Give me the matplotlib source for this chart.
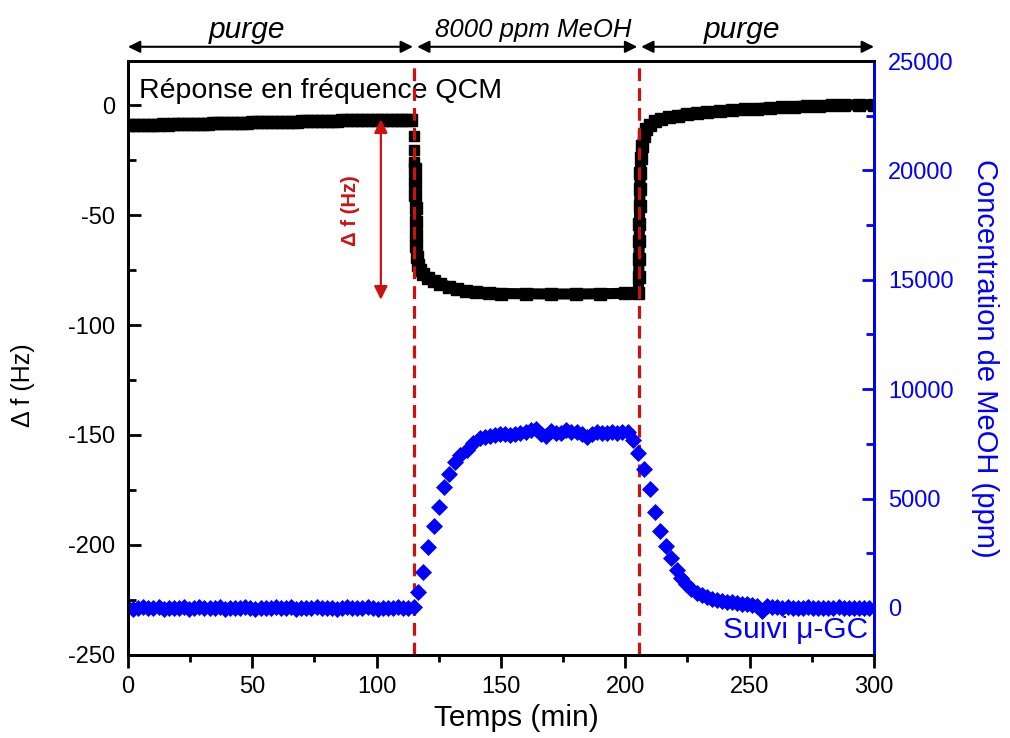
import numpy as np
import matplotlib.pyplot as plt
from matplotlib.ticker import MultipleLocator

plt.rcParams['font.family'] = ['Liberation Sans', 'DejaVu Sans']
plt.rcParams['axes.unicode_minus'] = False

RED = '#cc1111'
BLUE = '#0000ff'

# QCM frequency shift (Hz) vs time (min)
t_purge1 = np.arange(58) * 2.0
df_purge1 = [-9.3, -9.1, -9.2, -9.0, -9.1, -8.9, -9.0, -8.8, -8.9, -8.7,
             -8.8, -8.6, -8.6, -8.5, -8.5, -8.4, -8.4, -8.3, -8.3, -8.2,
             -8.2, -8.1, -8.1, -8.0, -8.0, -7.9, -7.9, -7.8, -7.8, -7.7,
             -7.7, -7.6, -7.6, -7.5, -7.5, -7.4, -7.4, -7.3, -7.3, -7.2,
             -7.2, -7.1, -7.1, -7.0, -7.0, -7.0, -6.9, -6.9, -6.9, -6.8,
             -6.8, -6.8, -6.7, -6.7, -6.7, -6.6, -6.6, -6.6]
# first sparse points of the drop
t_drop = [115.0, 115.1, 115.2]
df_drop = [-14.0, -20.5, -26.0]
# exposure + second purge
t_rest = [115.4, 115.5, 115.6, 115.7, 115.8, 115.9, 116.0, 116.1, 116.5, 117.5,
          118.7, 120.5, 123.0, 125.5, 129.0, 132.5, 136.0, 140.0, 145.0, 150.0,
          160.0, 170.0, 180.0, 190.0, 200.0, 205.2,
          205.4, 205.5, 205.6, 205.7, 205.8, 205.9, 206.0, 206.3, 206.8, 207.5,
          208.5, 210.0, 212.0, 214.5, 217.5, 221.0, 225.0, 229.0, 233.0, 238.0,
          243.0, 248.0, 253.0, 258.0, 263.0, 268.0, 273.0, 278.0, 283.0, 288.0,
          294.0, 300.0]
df_rest = [-29, -35, -41, -47, -53, -59, -64, -69, -72.5, -75,
           -77, -78.8, -80.2, -81.2, -82.6, -83.8, -84.7, -85.2, -85.5, -85.7,
           -85.8, -85.9, -85.9, -85.8, -85.6, -85.5,
           -78, -70, -62, -54, -46, -38, -31, -24, -18.5, -14,
           -11, -9, -7.3, -6.3, -5.5, -4.8, -4.2, -3.7, -3.2, -2.8,
           -2.4, -2.0, -1.6, -1.3, -1.0, -0.7, -0.5, -0.3, -0.1, 0.0,
           0.1, 0.2]

# micro-GC MeOH concentration (ppm)
t_gc1 = np.arange(56) * 2.05
c_gc1 = [20, -30, 10, 40, -20, 0, 30, -40, 10, 20,
         -10, 30, -30, 0, 40, -20, 10, -10, 30, -30,
         20, 0, -20, 40, 10, -30, 20, -10, 0, 30,
         -20, 10, 40, -30, 0, 20, -10, 30, -20, 10,
         0, -30, 20, 40, -10, 10, -20, 30, 0, -30,
         20, 10, -10, 30, -20, 0]
t_gc_rise = [114.9, 116.7, 118.7, 120.7, 123.0, 125.0, 127.2, 129.2, 131.5, 133.5,
             136.2, 138.7, 141.5]
c_gc_rise = [60, 717, 1660, 2800, 3760, 4600, 5545, 6125, 6690, 7000,
             7220, 7540, 7770]
t_gc2 = np.arange(29) * 2.05 + 143.5
c_gc2 = [7820, 7850, 7900, 7950, 7950, 7900, 7950, 8000, 8050, 8150,
         8180, 7950, 7880, 8100, 8000, 7980, 8140, 8050, 8060, 7950,
         7830, 7950, 8060, 8000, 7980, 8020, 7990, 8030, 8060]
t_gc_fall = [203.2, 205.2, 207.5, 209.9, 212.1, 214.1, 216.3, 218.3, 220.6, 222.6,
             224.6, 226.6, 228.7, 230.7, 232.7, 234.8, 236.8, 238.8, 240.9, 242.9,
             245.0, 247.0, 249.0, 251.0, 253.0, 255.0]
c_gc_fall = [7680, 7070, 6340, 5425, 4400, 3520, 2835, 2270, 1740, 1350,
             1080, 870, 700, 580, 490, 420, 370, 330, 290, 250,
             220, 190, 160, 130, 110, -150]
t_gc3 = np.arange(21) * 2.05 + 257.05
c_gc3 = [80, 40, 60, 20, 30, -10, 20, 0, 30, -20,
         10, 20, -10, 0, 30, -20, 10, -10, 20, 0, 10]

t_gc = np.concatenate([t_gc1, t_gc_rise, t_gc2, t_gc_fall, t_gc3])
c_gc = np.concatenate([c_gc1, c_gc_rise, c_gc2, c_gc_fall, c_gc3])

t_switch = [115, 205.5]
# arrow start, arrow end, label x, label, font size
phases = [(0, 114.6, 48, 'purge', 21.5), (116.3, 204.8, 163, '8000 ppm MeOH', 18.5),
          (206.4, 300, 247, 'purge', 21.5)]

fig = plt.figure(figsize=(10.1, 7.38), dpi=100)
ax = fig.add_axes([0.1267, 0.1125, 0.7386, 0.8048])
ax2 = ax.twinx()

ax.plot(t_purge1, df_purge1, color='k', lw=8, marker='s', ms=8,
        solid_capstyle='butt', zorder=3)
ax.plot(t_drop, df_drop, ls='none', color='k', marker='s', ms=7, zorder=3)
ax.plot(t_rest, df_rest, color='k', lw=8, marker='s', ms=8,
        solid_capstyle='butt', solid_joinstyle='round', zorder=3)

ax2.plot(t_gc, c_gc, ls='none', marker='D', ms=8, color=BLUE, mew=0.5)

for ts in t_switch:
    ax.axvline(ts, color=RED, ls=(0, (4, 2.2)), lw=2.3, zorder=4)

ax.annotate('', xy=(101.7, -6.5), xytext=(101.7, -88.5),
            arrowprops=dict(arrowstyle='<|-|>', color=RED, lw=1.6,
                            mutation_scale=20, shrinkA=0, shrinkB=0))
ax.text(89.5, -48, '\u0394 f (Hz)', color=RED, fontsize=14.5, fontweight='bold',
        rotation=90, ha='center', va='center')

for x0, x1, xl, label, fs in phases:
    ax.annotate('', xy=(x0, 1.024), xytext=(x1, 1.024),
                xycoords=('data', 'axes fraction'),
                textcoords=('data', 'axes fraction'), annotation_clip=False,
                arrowprops=dict(arrowstyle='<|-|>', color='k', lw=1.5,
                                mutation_scale=18, shrinkA=0, shrinkB=0))
    ax.text(xl, 1.053, label, transform=ax.get_xaxis_transform(),
            ha='center', va='center', fontsize=fs, style='italic')

ax.text(4.5, 6.5, 'Réponse en fréquence QCM', fontsize=20.5, va='center', ha='left')
ax.text(297.5, -238.5, 'Suivi \u03bc-GC', fontsize=21.5, color=BLUE,
        va='center', ha='right')

ax.set_xlim(0, 300)
ax.set_ylim(-250, 20)
ax2.set_ylim(-2150, 25000)

ax.xaxis.set_major_locator(MultipleLocator(50))
ax.xaxis.set_minor_locator(MultipleLocator(25))
ax.yaxis.set_major_locator(MultipleLocator(50))
ax.yaxis.set_minor_locator(MultipleLocator(25))
ax2.yaxis.set_major_locator(MultipleLocator(5000))
ax2.yaxis.set_minor_locator(MultipleLocator(2500))

ax.tick_params(axis='x', which='major', direction='out', length=9, width=2,
               labelsize=17, pad=6, top=False)
ax.tick_params(axis='x', which='minor', direction='out', length=5, width=2, top=False)
ax.tick_params(axis='y', which='major', direction='in', length=9, width=2,
               labelsize=17, pad=9, right=False)
ax.tick_params(axis='y', which='minor', direction='in', length=6, width=2, right=False)
ax2.tick_params(axis='y', which='major', direction='in', length=9, width=2,
                labelsize=17, pad=10, color=BLUE, labelcolor=BLUE)
ax2.tick_params(axis='y', which='minor', direction='in', length=6, width=2, color=BLUE)

for sp in ax.spines.values():
    sp.set_linewidth(2)
for sp in ax2.spines.values():
    sp.set_linewidth(2)
ax2.spines['right'].set_color(BLUE)

ax.set_xlabel('Temps (min)', fontsize=21.5)
ax.xaxis.set_label_coords(0.52, -0.082)
ax.set_ylabel('\u0394 f (Hz)', fontsize=18)
ax.yaxis.set_label_coords(-0.124, 0.455)
ax2.set_ylabel('Concentration de MeOH (ppm)', fontsize=21, color=BLUE,
               rotation=270, labelpad=33)

fig.savefig('out.png', dpi=100)
